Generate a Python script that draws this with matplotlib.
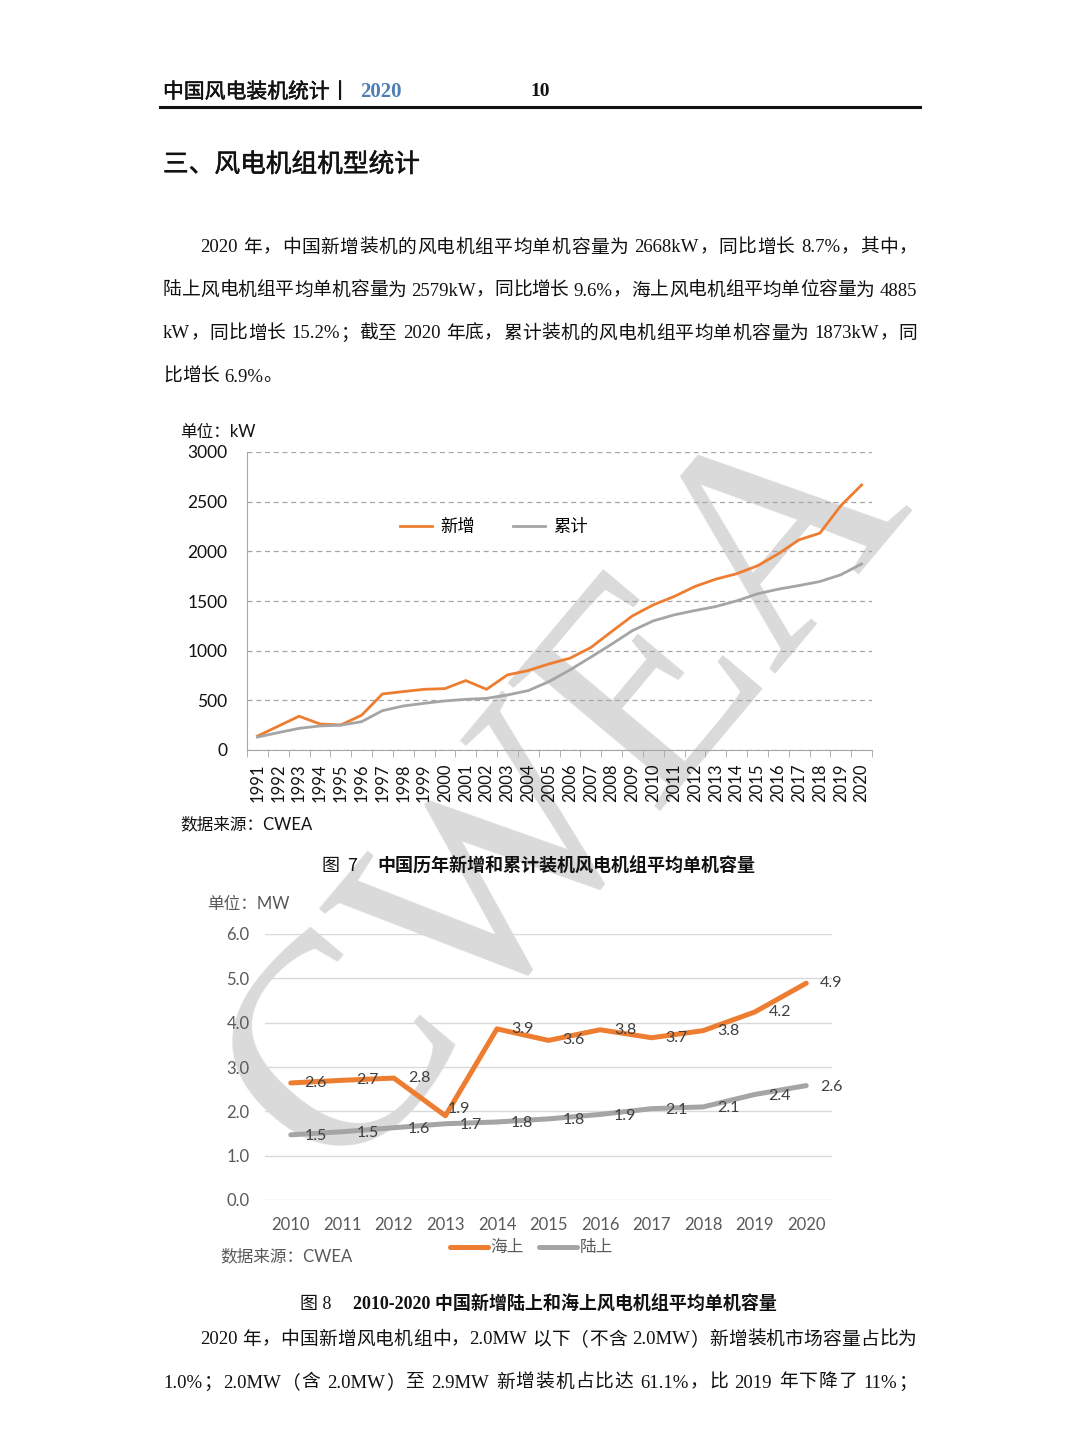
import matplotlib
matplotlib.use("Agg")
import matplotlib.pyplot as plt
import matplotlib.patheffects as pe
import numpy as np

# ---- data: figure 7 (kW) ----
years_7 = [str(y) for y in range(1991, 2021)]
new_kw = [140, 240, 340, 262, 252, 350, 564, 588, 611, 618,
          699, 611, 756, 800, 867, 924, 1031, 1192, 1350, 1461,
          1545, 1646, 1720, 1774, 1854, 1975, 2116, 2183, 2459, 2668]
cum_kw = [130, 175, 218, 242, 250, 285, 396, 443, 470, 494,
          510, 520, 554, 598, 689, 806, 934, 1065, 1202, 1300,
          1360, 1404, 1444, 1501, 1572, 1619, 1656, 1696, 1764, 1873]

# ---- data: figure 8 (MW) ----
years_8 = [str(y) for y in range(2010, 2021)]
offshore = [2.64, 2.70, 2.75, 1.90, 3.86, 3.60, 3.84, 3.66, 3.82, 4.24, 4.89]
onshore = [1.47, 1.54, 1.63, 1.72, 1.76, 1.83, 1.93, 2.06, 2.10, 2.38, 2.58]

para1 = [
    "2020 年，中国新增装机的风电机组平均单机容量为 2668kW，同比增长 8.7%，其中，",
    "陆上风电机组平均单机容量为 2579kW，同比增长 9.6%，海上风电机组平均单位容量为 4885",
    "kW，同比增长 15.2%；截至 2020 年底，累计装机的风电机组平均单机容量为 1873kW，同",
    "比增长 6.9%。",
]
para2 = [
    "2020 年，中国新增风电机组中，2.0MW 以下（不含 2.0MW）新增装机市场容量占比为",
    "1.0%；2.0MW（含 2.0MW）至 2.9MW 新增装机占比达 61.1%，比 2019 年下降了 11%；",
]

ORANGE = "#ED7D31"
GRAY = "#A5A5A5"
SERIF = ["Liberation Serif", "Noto Sans CJK SC"]
SANS = ["Lato", "Noto Sans CJK SC"]
CJK = ["Noto Sans CJK SC", "DejaVu Sans"]

W, H = 1080, 1442


def fx(x):
    return x / W


def fy(y):
    return 1 - y / H


fig = plt.figure(figsize=(W / 100, H / 100), dpi=100)
fig.patch.set_facecolor("white")
renderer = fig.canvas.get_renderer()


def split_tokens(s):
    out, buf = [], ""
    for ch in s:
        if ch == " " or ord(ch) > 0x2E80:
            if buf:
                out.append(buf)
                buf = ""
            out.append(ch)
        else:
            buf += ch
    if buf:
        out.append(buf)
    return out


def advance(tok, **kw):
    # width of a token including its side bearings / blank part
    a = fig.text(0, 0, "中" + tok + "中", **kw)
    b = fig.text(0, 0, "中中", **kw)
    w = a.get_window_extent(renderer).width - b.get_window_extent(renderer).width
    a.remove()
    b.remove()
    return w


def body_line(x0, y, s, x1=None, **kw):
    toks = split_tokens(s)
    advs = [advance(t, **kw) for t in toks]
    gap = 0.0
    if x1 is not None and len(toks) > 1:
        gap = ((x1 - x0) - sum(advs)) / (len(toks) - 1)
    x = x0
    for t, a in zip(toks, advs):
        if t != " ":
            fig.text(fx(x), fy(y), t, ha="left", va="center", **kw)
        x += a + gap


BODY = dict(family=SERIF, fontsize=13.5, color="#111111")
HEAVY = [pe.withStroke(linewidth=0.35, foreground="#111111")]

# watermark behind the charts
fig.text(fx(568), fy(792), "CWEA", family="Liberation Serif", fontsize=218,
         color="#dadada", rotation=50, ha="center", va="center", zorder=-5)

# ---- header ----
fig.text(fx(163), fy(92), "中国风电装机统计丨", family=CJK, fontsize=15,
         ha="left", va="center", color="#111111", path_effects=HEAVY)
fig.text(fx(360), fy(92), "2020", family="Liberation Serif", fontsize=15,
         weight="bold", ha="left", va="center", color="#4F7FB5")
fig.text(fx(530), fy(92), "10", family="Liberation Serif", fontsize=14,
         weight="bold", ha="left", va="center", color="#111111")
fig.add_artist(plt.Line2D([fx(160), fx(920)], [fy(107), fy(107)],
                          color="#111111", lw=2.2))

fig.text(fx(163), fy(165), "三、风电机组机型统计", family=CJK, fontsize=18.5,
         ha="left", va="center", color="#111111", path_effects=HEAVY)

for i, line in enumerate(para1):
    x0 = 200 if i == 0 else 163
    x1 = 917 if i < len(para1) - 1 else None
    body_line(x0, 248 + i * 43, line, x1, **BODY)

for i, line in enumerate(para2):
    x0 = 200 if i == 0 else 163
    body_line(x0, 1340 + i * 43, line, 917, **BODY)

# ---- figure 7 ----
ax1 = fig.add_axes([fx(247), fy(750), (872 - 247) / W, (750 - 452) / H])
ax1.set_facecolor("none")
x7 = np.arange(len(years_7))
ax1.plot(x7, new_kw, color=ORANGE, lw=2.0, label="新增", zorder=3)
ax1.plot(x7, cum_kw, color=GRAY, lw=2.0, label="累计", zorder=3)
ax1.set_xlim(-0.5, len(years_7) - 0.5)
ax1.set_ylim(0, 3000)
ax1.set_yticks(range(0, 3001, 500))
ax1.yaxis.grid(True, ls=(0, (4, 3)), color="#A6A6A6", lw=0.9)
ax1.set_axisbelow(True)
for s in ["top", "right"]:
    ax1.spines[s].set_visible(False)
ax1.spines["left"].set_color("#A6A6A6")
ax1.spines["bottom"].set_color("#A6A6A6")
ax1.set_xticks(x7)
ax1.set_xticklabels(years_7, rotation=90, family=SANS, fontsize=12,
                    color="#111111")
ax1.set_xticks(np.arange(-0.5, len(years_7), 1), minor=True)
ax1.tick_params(axis="x", which="major", length=0, pad=10)
ax1.tick_params(axis="x", which="minor", length=5, color="#A6A6A6")
ax1.tick_params(axis="y", length=0, pad=14)
for t in ax1.get_yticklabels():
    t.set_family(SANS)
    t.set_fontsize(12.5)
    t.set_color("#111111")
ax1.legend(loc="center", bbox_to_anchor=(0.395, 0.748), ncol=2,
           frameon=False, handlelength=1.85, handletextpad=0.45,
           columnspacing=2.2, prop={"family": CJK, "size": 12.5})

fig.text(fx(180), fy(432), "单位：kW", family=SANS, fontsize=12,
         ha="left", va="center", color="#111111")
fig.text(fx(180), fy(824), "数据来源：CWEA", family=SANS, fontsize=12,
         ha="left", va="center", color="#111111")
fig.text(fx(322), fy(866), "图  7", family=CJK, fontsize=13,
         ha="left", va="center", color="#111111")
fig.text(fx(377), fy(866), "中国历年新增和累计装机风电机组平均单机容量", family=CJK,
         fontsize=13, weight="bold", ha="left", va="center", color="#111111")

# ---- figure 8 ----
ax2 = fig.add_axes([fx(265), fy(1200), (832 - 265) / W, (1200 - 934) / H])
ax2.set_facecolor("none")
x8 = np.arange(len(years_8))
ax2.plot(x8, offshore, color=ORANGE, lw=3.6, label="海上", zorder=3,
         solid_capstyle="round")
ax2.plot(x8, onshore, color=GRAY, lw=3.6, label="陆上", zorder=3,
         solid_capstyle="round")
for xi, v in zip(x8, offshore):
    # the 2013 label sits a little higher and closer, as in the source
    off = (2, 5) if years_8[xi] == "2013" else (10, 0)
    ax2.annotate(f"{v:.1f}", (xi, v), xytext=off, textcoords="offset points",
                 ha="left", va="center", family=SANS, fontsize=11.5,
                 color="#404040", zorder=4)
for xi, v in zip(x8, onshore):
    ax2.annotate(f"{v:.1f}", (xi, v), xytext=(10, -1), textcoords="offset points",
                 ha="left", va="center", family=SANS, fontsize=11.5,
                 color="#404040", zorder=4)
ax2.set_xlim(-0.5, len(years_8) - 0.5)
ax2.set_ylim(0, 6)
ax2.set_yticks(np.arange(0, 6.01, 1))
ax2.set_yticklabels([f"{v:.1f}" for v in np.arange(0, 6.01, 1)])
ax2.yaxis.grid(True, color="#D9D9D9", lw=1.0)
ax2.set_axisbelow(True)
for s in ax2.spines.values():
    s.set_visible(False)
ax2.set_xticks(x8)
ax2.set_xticklabels(years_8)
ax2.tick_params(axis="both", length=0, labelcolor="#595959")
ax2.tick_params(axis="x", pad=12)
ax2.tick_params(axis="y", pad=11)
for t in ax2.get_xticklabels() + ax2.get_yticklabels():
    t.set_family(SANS)
    t.set_fontsize(12)
ax2.legend(loc="center", bbox_to_anchor=(0.47, -0.18), ncol=2, frameon=False,
           handlelength=2.3, handletextpad=0.15, columnspacing=0.9,
           prop={"family": CJK, "size": 12}, labelcolor="#595959")

fig.text(fx(207), fy(904), "单位：MW", family=SANS, fontsize=12,
         ha="left", va="center", color="#595959")
fig.text(fx(220), fy(1256), "数据来源：CWEA", family=SANS, fontsize=12,
         ha="left", va="center", color="#595959")
fig.text(fx(300), fy(1305), "图 8", family=SERIF, fontsize=13,
         ha="left", va="center", color="#111111")
fig.text(fx(353), fy(1305), "2010-2020 中国新增陆上和海上风电机组平均单机容量",
         family=SERIF, fontsize=13, weight="bold", ha="left", va="center",
         color="#111111")

fig.savefig("out.png", dpi=100)
